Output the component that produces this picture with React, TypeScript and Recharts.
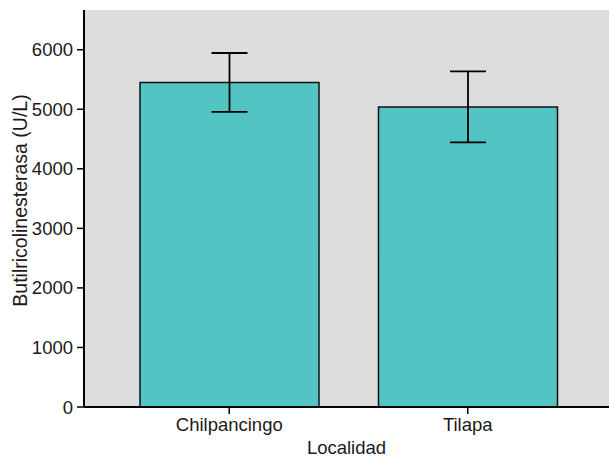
import React from 'react';
import { BarChart, Bar, XAxis, YAxis, ErrorBar, CartesianGrid } from 'recharts';

// Localidades y medias de butirilcolinesterasa (U/L)
const localidades = ['Chilpancingo', 'Tilapa'];
const medias = [5450, 5040];
const errores = [495, 595];
const yTicks = [0, 1000, 2000, 3000, 4000, 5000, 6000];

const data = localidades.map((nombre, i) => ({
  nombre,
  media: medias[i],
  error: errores[i],
}));

const font = '"Liberation Sans", Arial, sans-serif';
const tickStyle = { fill: '#1a1a1a', fontSize: 18.5, fontFamily: font };

const App: React.FC = () => {
  return (
    <div style={{ position: 'absolute', left: 0, top: 0, width: 609, height: 458, background: '#fff' }}>
      <BarChart
        width={609}
        height={458}
        data={data}
        margin={{ top: 10, right: 0, bottom: 0, left: 0 }}
        barSize={179}
      >
        <CartesianGrid fill="#dcdddc" horizontal={false} vertical={false} />
        <XAxis
          xAxisId="top"
          orientation="top"
          dataKey="nombre"
          height={0}
          tick={false}
          tickLine={false}
          axisLine={{ stroke: '#000', strokeWidth: 2 }}
        />
        <XAxis
          dataKey="nombre"
          height={51}
          padding={{ left: 26, right: 22 }}
          tick={tickStyle}
          tickSize={7}
          tickMargin={4}
          tickLine={{ stroke: '#000', strokeWidth: 1.5 }}
          axisLine={{ stroke: '#000', strokeWidth: 2 }}
          label={{
            value: 'Localidad',
            position: 'insideBottom',
            offset: 4,
            style: { fill: '#1a1a1a', fontSize: 18.5, fontFamily: font },
          }}
        />
        <YAxis
          width={84}
          domain={[0, 6667]}
          ticks={yTicks}
          allowDataOverflow
          tick={tickStyle}
          tickSize={7}
          tickMargin={4}
          tickLine={{ stroke: '#000', strokeWidth: 1.5 }}
          axisLine={{ stroke: '#000', strokeWidth: 2 }}
          label={{
            value: 'Butilricolinesterasa (U/L)',
            angle: -90,
            position: 'insideLeft',
            offset: 20,
            dy: -8,
            style: { textAnchor: 'middle', fill: '#1a1a1a', fontSize: 19.5, fontFamily: font },
          }}
        />
        <Bar dataKey="media" fill="#53c4c4" stroke="#111" strokeWidth={1.5} isAnimationActive={false}>
          <ErrorBar dataKey="error" width={18} stroke="#000" strokeWidth={1.8} isAnimationActive={false} />
        </Bar>
      </BarChart>
    </div>
  );
};

export default App;
